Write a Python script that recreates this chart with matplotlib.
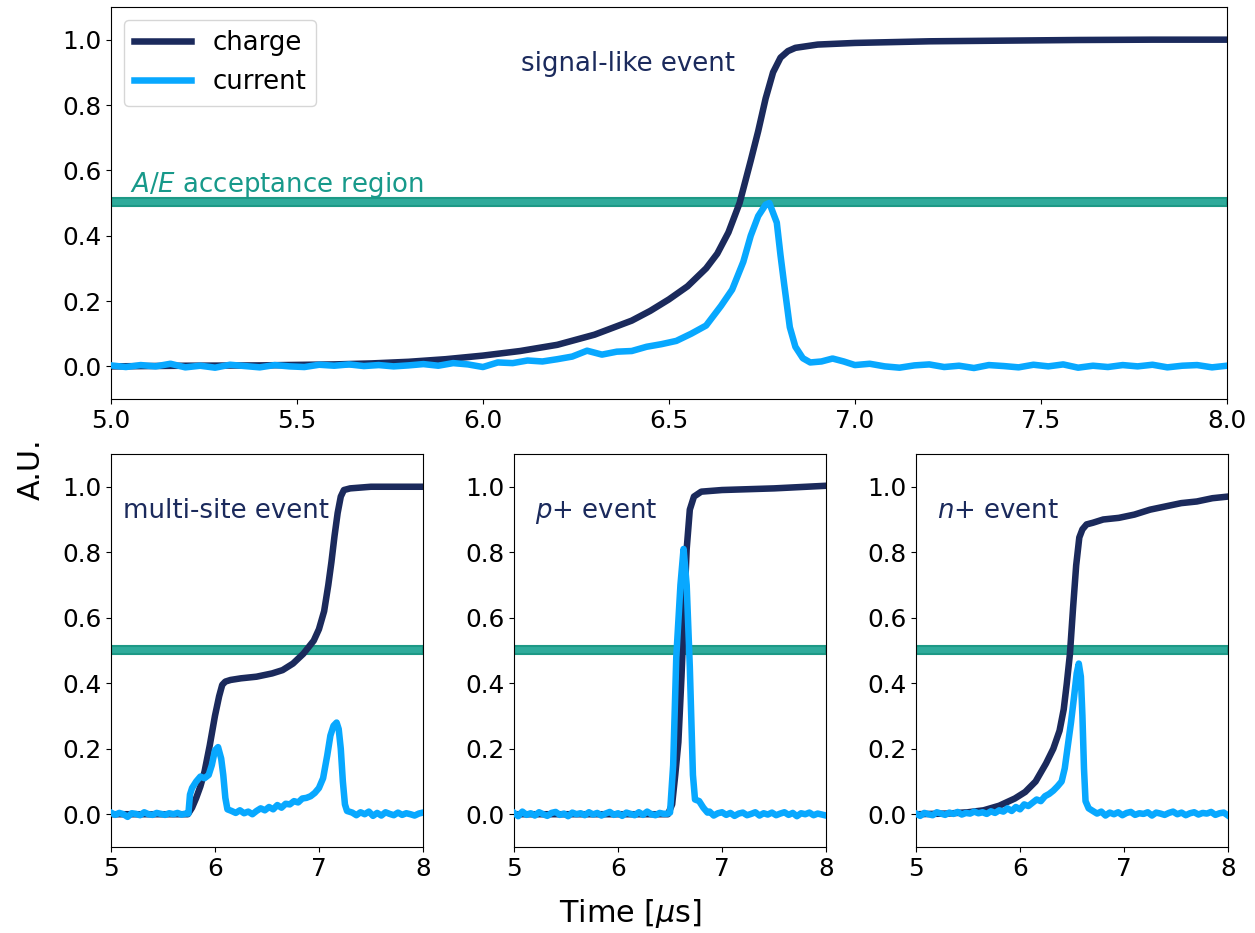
import matplotlib
matplotlib.use('Agg')
import matplotlib.pyplot as plt
import numpy as np

# Colours
c_charge = '#1b2a5c'
c_current = '#08a8ff'
c_band = '#2fab9b'
c_band_edge = '#1d9986'
c_band_text = '#17998a'


def seg(t0, t1, vals):
    """Pair a run of read-off values with evenly spaced times."""
    return np.linspace(t0, t1, len(vals)), np.array(vals)


def join(*parts):
    t = np.concatenate([p[0] for p in parts])
    v = np.concatenate([p[1] for p in parts])
    return t, v


#%%
# Signal-like event (top panel)
top_charge_t = [5.0, 5.2, 5.4, 5.6, 5.7, 5.8, 5.9, 6.0, 6.1, 6.2, 6.3, 6.4,
                6.45, 6.5, 6.55, 6.6, 6.63, 6.66, 6.69, 6.72, 6.74, 6.76,
                6.78, 6.80, 6.82, 6.84, 6.87, 6.9, 7.0, 7.2, 7.4, 7.6, 7.8,
                8.0]
top_charge_v = [0.0, 0.002, 0.003, 0.006, 0.009, 0.014, 0.022, 0.033, 0.047,
                0.066, 0.097, 0.14, 0.17, 0.205, 0.245, 0.30, 0.345, 0.41,
                0.50, 0.63, 0.72, 0.82, 0.90, 0.945, 0.965, 0.975, 0.98,
                0.985, 0.99, 0.995, 0.997, 0.999, 1.0, 1.0]

top_cur_base = [0.003, -0.002, 0.004, 0.000, 0.008, -0.003, 0.002, -0.004,
                0.005, 0.001, -0.003, 0.004, 0.000, -0.002, 0.005, 0.002,
                0.006, 0.001, 0.004, 0.000, 0.003, 0.007, 0.002]
top_cur_rise = [0.010, 0.006, -0.002, 0.012, 0.010, 0.018, 0.015, 0.022,
                0.030, 0.048, 0.036, 0.045, 0.047, 0.060, 0.068, 0.078,
                0.100, 0.125, 0.185]
top_cur_peak_t = [6.67, 6.70, 6.72, 6.74, 6.76, 6.77, 6.79, 6.80, 6.81,
                  6.825, 6.84, 6.86, 6.88, 6.91, 6.94, 6.97]
top_cur_peak_v = [0.235, 0.32, 0.40, 0.46, 0.495, 0.50, 0.44, 0.34, 0.25,
                  0.12, 0.06, 0.025, 0.012, 0.015, 0.024, 0.015]
top_cur_tail = [0.004, 0.008, 0.000, -0.004, 0.003, 0.006, -0.002, 0.002,
                -0.005, 0.004, 0.001, -0.003, 0.005, 0.000, 0.006, -0.004,
                0.002, -0.002, 0.004, 0.000, 0.005, -0.003, 0.002, 0.004,
                -0.003, 0.002]

#%%
# Multi-site event
ms_charge_t = [5.0, 5.4, 5.74, 5.78, 5.82, 5.86, 5.90, 5.95, 6.0, 6.04, 6.07,
               6.10, 6.15, 6.25, 6.4, 6.55, 6.65, 6.75, 6.85, 6.95, 7.0,
               7.05, 7.09, 7.12, 7.15, 7.18, 7.21, 7.24, 7.3, 7.5, 7.8, 8.0]
ms_charge_v = [0.0, 0.0, 0.0, 0.02, 0.05, 0.085, 0.13, 0.21, 0.30, 0.36,
               0.395, 0.405, 0.41, 0.415, 0.42, 0.43, 0.44, 0.46, 0.49, 0.53,
               0.565, 0.62, 0.70, 0.77, 0.85, 0.92, 0.97, 0.99, 0.995, 1.0,
               1.0, 1.0]

ms_cur_base = [0.005, -0.002, 0.004, 0.000, -0.008, 0.003, 0.001, -0.003,
               0.006, 0.000, -0.002, 0.004, 0.001, -0.002, 0.003, 0.000,
               0.004, -0.001, 0.002]
ms_cur_p1_t = [5.745, 5.76, 5.78, 5.82, 5.86, 5.90, 5.94, 5.97, 6.00, 6.03,
               6.06, 6.08, 6.10, 6.12]
ms_cur_p1_v = [0.002, 0.06, 0.08, 0.10, 0.115, 0.11, 0.12, 0.15, 0.195,
               0.205, 0.17, 0.12, 0.05, 0.015]
ms_cur_mid = [0.010, 0.004, 0.012, 0.003, 0.008, 0.000, 0.010, 0.018, 0.012,
              0.022, 0.015, 0.028, 0.020, 0.032, 0.030, 0.040, 0.036, 0.048,
              0.050, 0.055, 0.065]
ms_cur_p2_t = [7.00, 7.04, 7.08, 7.11, 7.14, 7.17, 7.19, 7.21, 7.23, 7.25,
               7.27]
ms_cur_p2_v = [0.08, 0.11, 0.18, 0.24, 0.27, 0.28, 0.26, 0.20, 0.10, 0.03,
               0.01]
ms_cur_tail = [0.005, -0.003, 0.006, 0.000, 0.008, -0.005, 0.004, -0.004,
               0.006, 0.001, -0.003, 0.005, -0.002, 0.003, 0.000, -0.004,
               0.002, 0.005]

#%%
# p+ event
pp_charge_t = [5.0, 5.5, 6.0, 6.48, 6.52, 6.55, 6.58, 6.61, 6.64, 6.66, 6.69,
               6.73, 6.80, 7.0, 7.5, 8.0]
pp_charge_v = [0.0, 0.0, 0.0, 0.0, 0.03, 0.12, 0.22, 0.42, 0.66, 0.81, 0.93,
               0.97, 0.985, 0.99, 0.995, 1.003]

pp_cur_base = [0.004, -0.006, 0.008, -0.002, 0.003, -0.004, 0.006, 0.000,
               -0.005, 0.004, 0.007, -0.002, 0.002, -0.006, 0.005, 0.000,
               0.003, -0.003, 0.006, -0.001, 0.004, -0.004, 0.002, 0.007,
               -0.002, 0.003, -0.005, 0.005, 0.001, -0.003, 0.006, -0.002,
               0.008, 0.000, -0.003, 0.004, 0.001, 0.002]
pp_cur_peak_t = [6.50, 6.53, 6.56, 6.60, 6.63, 6.66, 6.69, 6.72, 6.74, 6.78,
                 6.82, 6.86]
pp_cur_peak_v = [0.005, 0.15, 0.48, 0.70, 0.81, 0.70, 0.45, 0.12, 0.045,
                 0.04, 0.02, 0.005]
pp_cur_tail = [0.008, -0.004, 0.003, 0.006, -0.002, 0.004, -0.005, 0.002,
               0.005, -0.003, 0.001, 0.006, -0.004, 0.003, -0.001, 0.005,
               -0.003, 0.002, 0.006, -0.002, 0.004, -0.006, 0.003, 0.000,
               0.005, -0.003, 0.002, -0.001, -0.004]

#%%
# n+ event
np_charge_t = [5.0, 5.3, 5.5, 5.65, 5.8, 5.95, 6.05, 6.15, 6.25, 6.32, 6.38,
               6.42, 6.45, 6.48, 6.51, 6.54, 6.57, 6.60, 6.64, 6.70, 6.8,
               6.95, 7.1, 7.25, 7.4, 7.55, 7.7, 7.85, 8.0]
np_charge_v = [0.0, 0.002, 0.006, 0.012, 0.026, 0.048, 0.068, 0.10, 0.155,
               0.20, 0.255, 0.32, 0.40, 0.49, 0.63, 0.76, 0.845, 0.87, 0.885,
               0.89, 0.90, 0.905, 0.915, 0.93, 0.94, 0.95, 0.955, 0.965,
               0.97]

np_cur_base = [0.002, -0.005, 0.004, 0.000, -0.003, 0.006, 0.002, -0.002,
               0.005, 0.001, 0.007, -0.001, 0.004, 0.002, 0.008, 0.003,
               0.006, 0.001, 0.009, 0.004]
np_cur_rise = [0.012, 0.008, 0.018, 0.010, 0.022, 0.015, 0.030, 0.025,
               0.035, 0.045, 0.040, 0.055, 0.062, 0.072, 0.085, 0.10]
np_cur_peak_t = [6.43, 6.46, 6.49, 6.52, 6.545, 6.565, 6.585, 6.60, 6.615,
                 6.63, 6.66]
np_cur_peak_v = [0.14, 0.21, 0.28, 0.36, 0.43, 0.46, 0.42, 0.30, 0.14, 0.04,
                 0.018]
np_cur_tail = [0.010, 0.002, 0.008, -0.004, 0.005, 0.000, 0.006, -0.003,
               0.004, 0.007, -0.002, 0.003, 0.001, 0.006, -0.004, 0.005,
               0.002, -0.002, 0.004, 0.008, 0.000, 0.005, -0.003, 0.003,
               0.006, -0.001, 0.004, 0.002, 0.007, -0.002, 0.003, 0.005,
               -0.004]

ae_low, ae_high = 0.49, 0.515

events = [
    ('multi-site event',
     (ms_charge_t, ms_charge_v),
     join(seg(5.0, 5.72, ms_cur_base), (ms_cur_p1_t, ms_cur_p1_v),
          seg(6.16, 6.96, ms_cur_mid), (ms_cur_p2_t, ms_cur_p2_v),
          seg(7.32, 8.0, ms_cur_tail))),
    ('$p$+ event',
     (pp_charge_t, pp_charge_v),
     join(seg(5.0, 6.48, pp_cur_base), (pp_cur_peak_t, pp_cur_peak_v),
          seg(6.88, 8.0, pp_cur_tail))),
    ('$n$+ event',
     (np_charge_t, np_charge_v),
     join(seg(5.0, 5.76, np_cur_base), seg(5.80, 6.40, np_cur_rise),
          (np_cur_peak_t, np_cur_peak_v), seg(6.70, 8.0, np_cur_tail))),
]

#%%
plt.rcParams['font.size'] = 17.8
txt_size = 18.7
lw = 4.7

fig = plt.figure(figsize=(12.55, 9.33), dpi=100)
ax_top = fig.add_axes([0.0884, 0.5723, 0.8892, 0.4202])

ax_top.axhspan(ae_low, ae_high, facecolor=c_band, edgecolor=c_band_edge,
               lw=1.5, zorder=1)
ax_top.plot(top_charge_t, top_charge_v, color=c_charge, lw=lw, label='charge',
            zorder=2)
t_cur, v_cur = join(seg(5.0, 5.88, top_cur_base), seg(5.92, 6.64, top_cur_rise),
                    (top_cur_peak_t, top_cur_peak_v),
                    seg(7.0, 8.0, top_cur_tail))
ax_top.plot(t_cur, v_cur, color=c_current, lw=lw, label='current', zorder=3)
ax_top.text(5.05, 0.535, '$A/E$ acceptance region', color=c_band_text,
            fontsize=txt_size)
ax_top.text(6.39, 0.925, 'signal-like event', color=c_charge, ha='center',
            va='center', fontsize=txt_size)
ax_top.set_xlim(5, 8)
ax_top.set_ylim(-0.1, 1.1)
ax_top.set_xticks([5.0, 5.5, 6.0, 6.5, 7.0, 7.5, 8.0])
ax_top.set_yticks([0.0, 0.2, 0.4, 0.6, 0.8, 1.0])
ax_top.legend(loc='upper left', handlelength=2.2, fontsize=txt_size)

lefts = [0.0884, 0.4096, 0.7299]
for left, (name, charge, current) in zip(lefts, events):
    ax = fig.add_axes([left, 0.0922, 0.2486, 0.4212])
    ax.axhspan(ae_low, ae_high, facecolor=c_band, edgecolor=c_band_edge,
               lw=1.5, zorder=1)
    ax.plot(charge[0], charge[1], color=c_charge, lw=lw, zorder=2)
    ax.plot(current[0], current[1], color=c_current, lw=lw, zorder=3)
    ax.text(5.12 if name.startswith('multi') else 5.2, 0.925, name,
            color=c_charge, va='center', fontsize=txt_size)
    ax.set_xlim(5, 8)
    ax.set_ylim(-0.1, 1.1)
    ax.set_xticks([5, 6, 7, 8])
    ax.set_yticks([0.0, 0.2, 0.4, 0.6, 0.8, 1.0])

fig.text(0.5025, 0.021, r'Time [$\mu$s]', fontsize=21.8, ha='center',
         va='center')
fig.text(0.025, 0.497, 'A.U.', fontsize=21.8, rotation=90, ha='center',
         va='center')

plt.savefig('out.png', dpi=100)
